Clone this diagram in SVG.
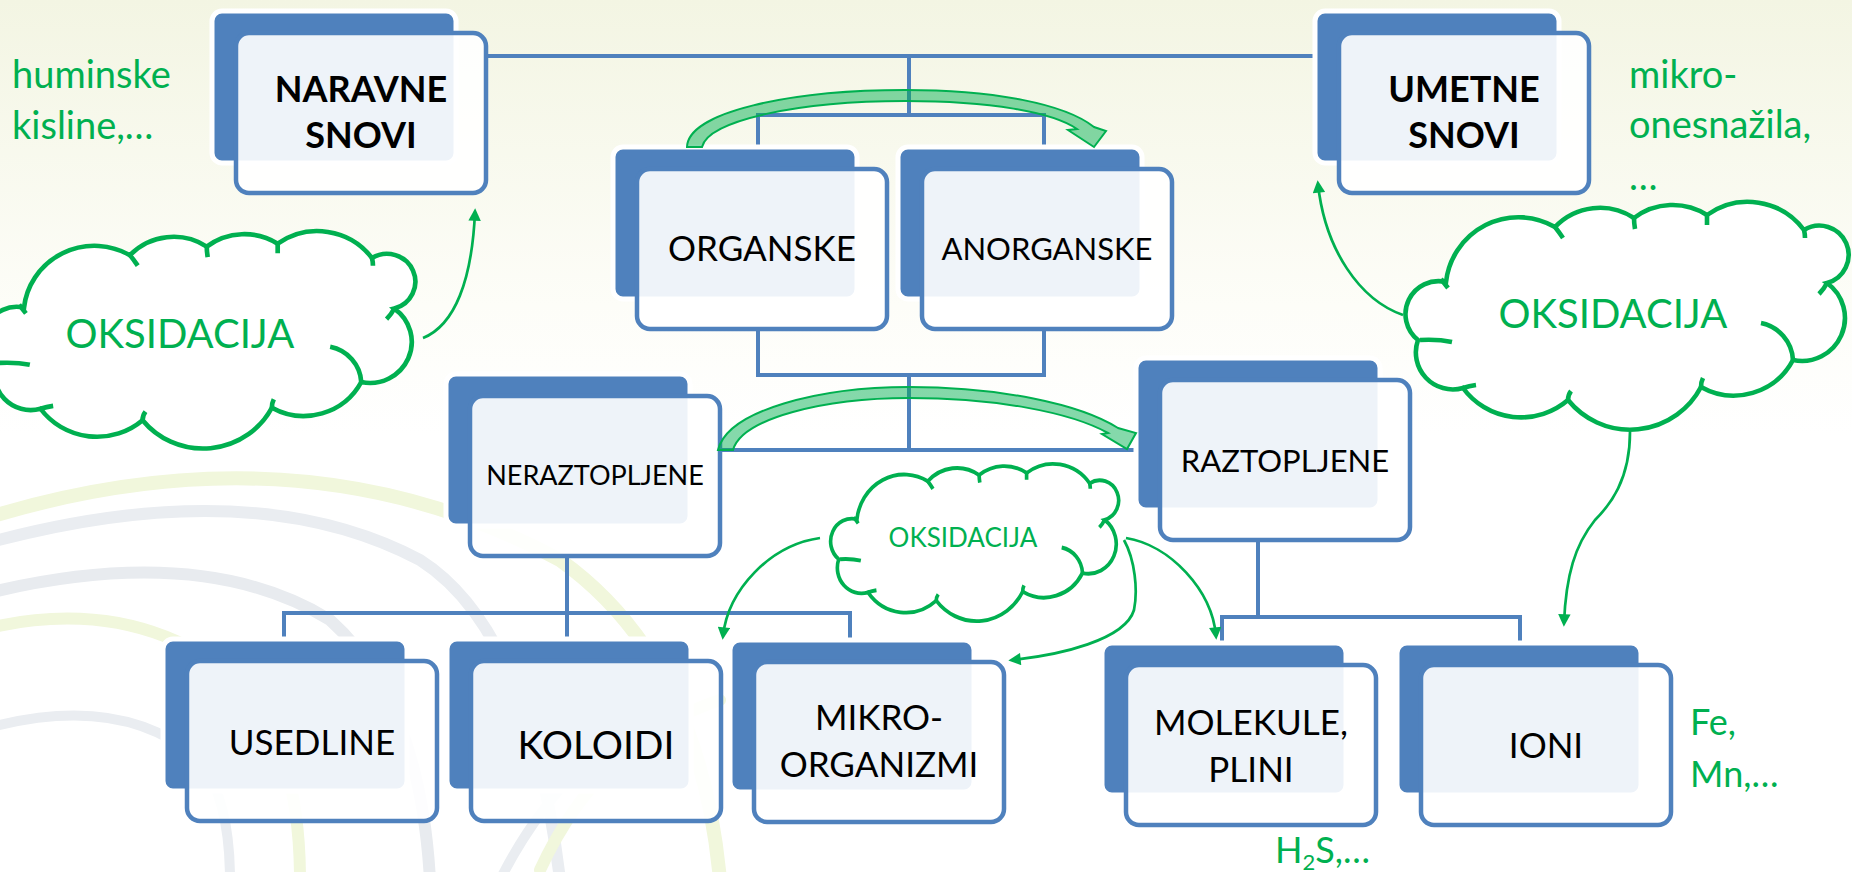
<svg xmlns="http://www.w3.org/2000/svg" xmlns:xlink="http://www.w3.org/1999/xlink" width="1852" height="872" viewBox="0 0 1852 872">
<defs>
<linearGradient id="bg" x1="0" y1="0" x2="0" y2="1">
<stop offset="0" stop-color="#f3f5e3"/>
<stop offset="0.35" stop-color="#fdfdf8"/>
<stop offset="0.5" stop-color="#ffffff"/>
</linearGradient>
<marker id="ah" viewBox="0 0 10 10" refX="7" refY="5" markerWidth="5.6" markerHeight="4.6" markerUnits="strokeWidth" orient="auto">
<path d="M0,0 L10,5 L0,10 Z" fill="#00b050"/>
</marker>
<path id="cloud" d="M43,80 A33,33 0 0 0 15,138 A37,37 0 0 0 60,186 A72,72 0 0 0 165,198 A80,80 0 0 0 298,185 A67,67 0 0 0 390,158 A43,43 0 0 0 424,81 A29.2,29.2 0 1 0 401,28 A70,70 0 0 0 304,13 A64,64 0 0 0 231,16 A62,62 0 0 0 152,25 A73,73 0 0 0 43,80 Z"/>
<path id="cloudTicks" fill="none" d="M38,77 L45,86 M17,138 Q35,137 49,140 M60,186 Q66,184 73,183 M165,198 Q165,193 168,189 M298,185 Q298,180 300,176 M358,121 A40,40 0 0 1 390,158 M424,81 Q421,87 416,92 M401,28 Q402,32 402,36 M304,13 Q304,18 304,23 M231,16 Q231,21 232,27 M152,25 Q156,30 160,36"/>
<style>
.cl{fill:#fff;stroke:#00b050}
.clt{fill:none;stroke:#00b050}
.back{fill:#4f81bd;stroke:#fff;stroke-width:5}
.front{fill:#fff;fill-opacity:.9;stroke:#4f81bd;stroke-width:4.5}
.t{font-family:Lato,'Open Sans','Liberation Sans',sans-serif;text-anchor:middle;fill:#000}
.b{font-weight:bold}
.g{font-family:Lato,'Open Sans','Liberation Sans',sans-serif;fill:#00b050}
.conn{fill:none;stroke:#4f81bd;stroke-width:4}
.arr{fill:none;stroke:#00b050;stroke-width:2.7;marker-end:url(#ah)}
.blk{fill:#00b050;fill-opacity:.48;stroke:#00b050;stroke-width:2;stroke-linejoin:miter}
.deco{fill:none;stroke-linecap:round}
</style>
</defs>

<rect width="1852" height="872" fill="url(#bg)"/>

<g id="decoration" class="deco">
<path d="M-20,520 Q300,420 560,560 Q700,660 720,880" stroke="#f1f7dc" stroke-width="14"/>
<path d="M-20,545 Q250,470 420,560 Q530,630 560,880" stroke="#eaedf1" stroke-width="12"/>
<path d="M-20,595 Q200,540 330,620 Q420,700 430,880" stroke="#e8ebef" stroke-width="12"/>
<path d="M-20,630 Q140,590 250,690 Q300,760 300,880" stroke="#f1f7dc" stroke-width="12"/>
<path d="M-20,730 Q120,690 200,760 Q230,800 230,880" stroke="#eaedf1" stroke-width="10"/>
<path d="M540,870 Q600,740 720,700" stroke="#f1f7dc" stroke-width="12"/>
<path d="M500,880 Q560,760 680,690" stroke="#eaedf1" stroke-width="10"/>
</g>

<g id="connectors">
<path class="conn" d="M487,56 H1315"/>
<path class="conn" d="M909,56 V115"/>
<path class="conn" d="M758,150 V115 H1044 V150"/>
<path class="conn" d="M758,329 V375 H1044 V329"/>
<path class="conn" d="M909,375 V450"/>
<path class="conn" d="M722,450 H1138"/>
<path class="conn" d="M567,555 V640"/>
<path class="conn" d="M284,640 V613 H850 V640"/>
<path class="conn" d="M1258,542 V617"/>
<path class="conn" d="M1222,643 V617 H1520 V643"/>
</g>

<g id="n-naravne" transform="translate(212,11)">
<rect class="back" width="244" height="152" rx="10"/>
<rect class="front" x="24" y="22" width="250" height="160" rx="13"/>
<text class="t b" x="149" y="91" font-size="36">NARAVNE</text>
<text class="t b" x="149" y="137" font-size="36">SNOVI</text>
</g>
<g id="n-umetne" transform="translate(1315,11)">
<rect class="back" width="244" height="152" rx="10"/>
<rect class="front" x="24" y="22" width="250" height="160" rx="13"/>
<text class="t b" x="149" y="91" font-size="36">UMETNE</text>
<text class="t b" x="149" y="137" font-size="36">SNOVI</text>
</g>
<g id="n-organske" transform="translate(613,147)">
<rect class="back" width="244" height="152" rx="10"/>
<rect class="front" x="24" y="22" width="250" height="160" rx="13"/>
<text class="t" x="149" y="114" font-size="35">ORGANSKE</text>
</g>
<g id="n-anorganske" transform="translate(898,147)">
<rect class="back" width="244" height="152" rx="10"/>
<rect class="front" x="24" y="22" width="250" height="160" rx="13"/>
<text class="t" x="149" y="113" font-size="31">ANORGANSKE</text>
</g>
<g id="n-neraztopljene" transform="translate(446,374)">
<rect class="back" width="244" height="152" rx="10"/>
<rect class="front" x="24" y="22" width="250" height="160" rx="13"/>
<text class="t" x="149" y="111" font-size="27">NERAZTOPLJENE</text>
</g>
<g id="n-raztopljene" transform="translate(1136,358)">
<rect class="back" width="244" height="152" rx="10"/>
<rect class="front" x="24" y="22" width="250" height="160" rx="13"/>
<text class="t" x="149" y="114" font-size="31">RAZTOPLJENE</text>
</g>
<g id="n-usedline" transform="translate(163,639)">
<rect class="back" width="244" height="152" rx="10"/>
<rect class="front" x="24" y="22" width="250" height="160" rx="13"/>
<text class="t" x="149" y="116" font-size="35">USEDLINE</text>
</g>
<g id="n-koloidi" transform="translate(447,639)">
<rect class="back" width="244" height="152" rx="10"/>
<rect class="front" x="24" y="22" width="250" height="160" rx="13"/>
<text class="t" x="149" y="120" font-size="39">KOLOIDI</text>
</g>
<g id="n-mikroorganizmi" transform="translate(730,640)">
<rect class="back" width="244" height="152" rx="10"/>
<rect class="front" x="24" y="22" width="250" height="160" rx="13"/>
<text class="t" x="149" y="90" font-size="35">MIKRO-</text>
<text class="t" x="149" y="137" font-size="35">ORGANIZMI</text>
</g>
<g id="n-molekule" transform="translate(1102,643)">
<rect class="back" width="244" height="152" rx="10"/>
<rect class="front" x="24" y="22" width="250" height="160" rx="13"/>
<text class="t" x="149" y="92" font-size="35">MOLEKULE,</text>
<text class="t" x="149" y="139" font-size="35">PLINI</text>
</g>
<g id="n-ioni" transform="translate(1397,643)">
<rect class="back" width="244" height="152" rx="10"/>
<rect class="front" x="24" y="22" width="250" height="160" rx="13"/>
<text class="t" x="149" y="115" font-size="35">IONI</text>
</g>

<g id="cloud-left">
<use xlink:href="#cloud" href="#cloud" class="cl" stroke-width="4.8" transform="translate(-17.8,231.3) scale(0.972,0.954)"/>
<use xlink:href="#cloudTicks" href="#cloudTicks" class="clt" stroke-width="4.8" transform="translate(-17.8,231.3) scale(0.972,0.954)"/>
<text class="g" x="180" y="348" font-size="40" text-anchor="middle">OKSIDACIJA</text>
</g>
<g id="cloud-right">
<use xlink:href="#cloud" href="#cloud" class="cl" stroke-width="4.6" transform="translate(1403,202)"/>
<use xlink:href="#cloudTicks" href="#cloudTicks" class="clt" stroke-width="4.6" transform="translate(1403,202)"/>
<text class="g" x="1613" y="328" font-size="40" text-anchor="middle">OKSIDACIJA</text>
</g>
<g id="cloud-middle">
<use xlink:href="#cloud" href="#cloud" class="cl" stroke-width="5.6" transform="translate(829,464) scale(0.65,0.69)"/>
<use xlink:href="#cloudTicks" href="#cloudTicks" class="clt" stroke-width="5.6" transform="translate(829,464) scale(0.65,0.69)"/>
<text class="g" x="963" y="547" font-size="26" text-anchor="middle">OKSIDACIJA</text>
</g>

<g id="arrows">
<path class="blk" d="M687,147 C688,112 790,90 905,90 C995,90 1065,104 1094,127 L1106,131 L1094,147 L1068,130 L1077,129 C1052,112 990,101 905,101 C800,101 708,120 702,147 Z"/>
<path class="blk" d="M718,450 C728,410 820,387 909,387 C1000,387 1080,404 1118,428 L1136,433 L1127,449 L1102,434 L1108,433 C1070,412 995,398 909,398 C825,398 742,418 733,450 Z"/>
<path class="arr" d="M423,338 C455,325 472,280 475,212"/>
<path class="arr" d="M1403,315 C1360,300 1325,250 1318,184"/>
<path class="arr" d="M1630,432 C1630,480 1610,505 1595,520 C1575,545 1566,575 1564,623"/>
<path class="arr" d="M820,538 C770,545 728,590 723,636"/>
<path class="arr" d="M1126,538 C1170,545 1212,590 1216,636"/>
<path class="arr" d="M1124,540 C1135,560 1138,590 1134,610 C1125,640 1060,655 1012,660"/>
</g>

<g id="labels">
<text class="g" x="12" y="88" font-size="38">huminske</text>
<text class="g" x="12" y="139" font-size="38">kisline,…</text>
<text class="g" x="1629" y="88" font-size="38">mikro-</text>
<text class="g" x="1629" y="138" font-size="38">onesnažila,</text>
<text class="g" x="1629" y="190" font-size="38">…</text>
<text class="g" x="1690" y="735" font-size="36">Fe,</text>
<text class="g" x="1690" y="787" font-size="36">Mn,…</text>
<text class="g" x="1275" y="863" font-size="36">H<tspan font-size="22" dy="7">2</tspan><tspan dy="-7">S,…</tspan></text>
</g>
</svg>
